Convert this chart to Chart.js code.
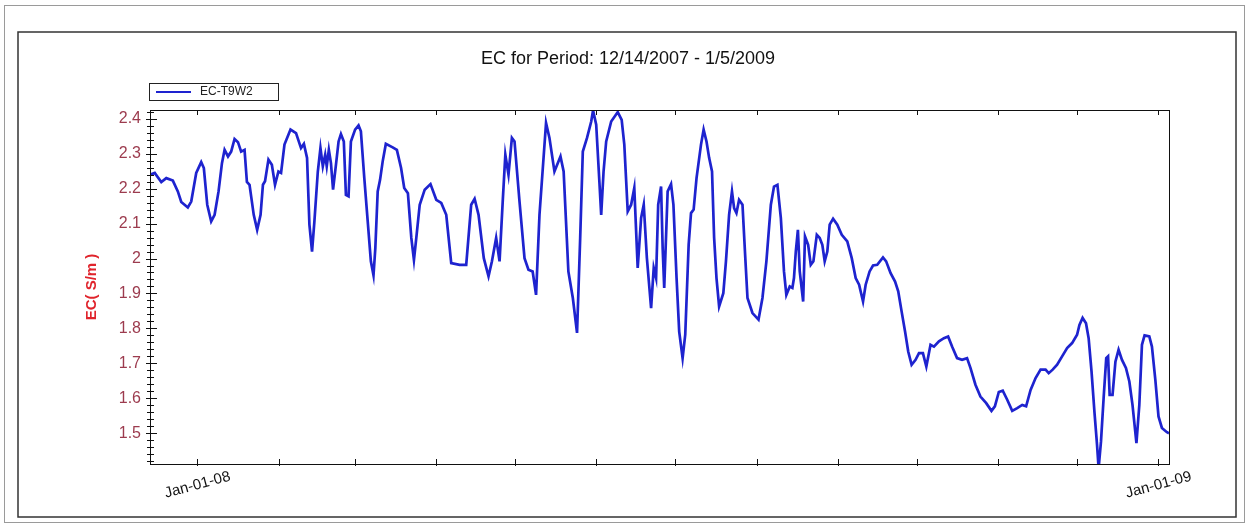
<!DOCTYPE html>
<html>
<head>
<meta charset="utf-8">
<title>EC for Period</title>
<script src="https://cdn.jsdelivr.net/npm/chart.js@4.4.1/dist/chart.umd.min.js"></script>
<style>
  html, body { margin: 0; padding: 0; background: #fff; }
  #ec-chart { display: block; }
</style>
</head>
<body>
<canvas id="ec-chart" width="1249" height="527"></canvas>
<script>
Chart.defaults.font.family = "'Liberation Sans', Arial, sans-serif";

const chartTitle = 'EC for Period: 12/14/2007 - 1/5/2009';
const seriesName = 'EC-T9W2';

// days since 12/14/2007
const daysSinceStart = [
  0, 1.8, 4.3, 6.2, 8.7, 10.6, 11.9, 14.4, 15.7, 17.6,
  19.5, 20.5, 21.8, 23.3, 24.6, 26.1, 27.4, 28.4, 29.7, 30.9,
  32.2, 33.5, 34.7, 36.0, 36.9, 37.9, 39.5, 40.8, 42.1, 43.0,
  43.8, 45.1, 46.4, 47.6, 48.9, 49.9, 51.2, 53.5, 55.6, 57.5,
  58.6, 59.8, 60.7, 61.7, 62.6, 63.9, 64.9, 65.8, 66.7, 67.3,
  68.1, 68.9, 69.7, 70.8, 71.8, 72.7, 73.8, 74.6, 75.6, 76.5,
  78.1, 79.4, 80.3, 81.6, 82.9, 84.1, 85.1, 85.8, 86.7, 87.6,
  88.6, 89.8, 92.4, 94.0, 95.6, 96.8, 98.2, 99.5, 100.5, 101.4,
  102.7, 104.6, 106.8, 109.0, 110.9, 112.8, 114.7, 117.9, 120.4, 122.3,
  123.6, 125.1, 127.1, 128.9, 130.2, 131.8, 133.1, 134.3, 135.3, 136.5,
  137.8, 138.8, 140.7, 142.6, 144.1, 145.7, 147.0, 148.3, 150.8, 152.1,
  154.0, 156.3, 157.5, 158.7, 159.3, 161.0, 162.6, 163.8, 164.8, 166.4,
  168.0, 168.7, 169.9, 171.1, 171.8, 172.7, 173.7, 175.6, 178.1, 179.6,
  180.6, 181.9, 183.2, 184.4, 185.7, 187.0, 188.0, 189.2, 190.8, 191.8,
  192.7, 193.5, 194.6, 195.2, 195.8, 197.1, 198.4, 199.3, 200.5, 201.5,
  202.8, 203.8, 205.1, 206.0, 207.0, 208.1, 209.8, 210.8, 211.9, 212.9,
  214.0, 214.8, 215.7, 216.7, 218.3, 219.3, 220.5, 221.6, 222.4, 223.3,
  224.3, 225.6, 226.6, 227.5, 229.4, 231.7, 233.2, 234.7, 236.4, 237.6,
  238.9, 240.2, 241.4, 242.3, 243.6, 244.6, 245.2, 245.9, 246.7, 247.4,
  248.7, 249.4, 250.6, 251.6, 252.6, 253.9, 255.0, 256.0, 256.9, 257.9,
  258.8, 260.1, 261.7, 263.4, 265.5, 267.2, 268.7, 270.0, 271.5, 272.5,
  274.0, 275.3, 276.9, 279.1, 280.3, 282.0, 283.7, 284.9, 286.2, 287.5,
  288.7, 290.0, 291.5, 292.8, 294.3, 295.6, 297.2, 298.5, 300.4, 302.3,
  303.9, 305.4, 307.3, 309.2, 311.1, 312.4, 314.3, 316.2, 318.4, 320.4,
  321.7, 323.2, 324.7, 326.4, 328.3, 330.2, 332.1, 333.6, 335.3, 337.2,
  339.1, 341.0, 342.2, 343.7, 345.4, 347.3, 349.2, 351.1, 353.0, 353.9,
  355.1, 356.4, 357.4, 358.5, 359.6, 360.6, 361.2, 362.1, 363.1, 364.1,
  364.8, 365.4, 366.5, 367.6, 368.8, 370.1, 371.6, 372.9, 374.1, 375.6,
  376.7, 377.7, 378.7, 380.5, 381.5, 382.8, 384.0, 385.3, 387.2, 388
];

// EC in S/m
const ecValues = [
  2.240, 2.245, 2.219, 2.230, 2.223, 2.192, 2.162, 2.146, 2.163, 2.245,
  2.276, 2.259, 2.154, 2.106, 2.125, 2.192, 2.273, 2.311, 2.292, 2.306,
  2.342, 2.333, 2.306, 2.311, 2.219, 2.211, 2.125, 2.082, 2.125, 2.211,
  2.221, 2.283, 2.268, 2.211, 2.249, 2.245, 2.326, 2.369, 2.359, 2.316,
  2.328, 2.288, 2.097, 2.020, 2.106, 2.249, 2.316, 2.264, 2.297, 2.264,
  2.311, 2.273, 2.197, 2.268, 2.335, 2.356, 2.335, 2.182, 2.178, 2.335,
  2.369, 2.381, 2.364, 2.230, 2.106, 1.992, 1.952, 2.030, 2.192, 2.225,
  2.278, 2.328, 2.318, 2.311, 2.259, 2.202, 2.187, 2.059, 1.996, 2.059,
  2.154, 2.197, 2.213, 2.168, 2.159, 2.125, 1.987, 1.982, 1.982, 2.154,
  2.171, 2.125, 2.001, 1.949, 1.992, 2.059, 1.992, 2.163, 2.297, 2.240,
  2.345, 2.335, 2.163, 2.001, 1.968, 1.963, 1.896, 2.125, 2.388, 2.345,
  2.249, 2.292, 2.249, 2.059, 1.963, 1.887, 1.787, 2.059, 2.306, 2.345,
  2.392, 2.424, 2.383, 2.221, 2.125, 2.249, 2.335, 2.392, 2.419, 2.397,
  2.326, 2.135, 2.154, 2.202, 1.973, 2.116, 2.154, 2.001, 1.858, 1.973,
  1.944, 2.154, 2.206, 2.030, 1.916, 2.192, 2.213, 2.154, 1.944, 1.791,
  1.715, 1.782, 2.039, 2.130, 2.140, 2.230, 2.326, 2.369, 2.335, 2.288,
  2.249, 2.059, 1.944, 1.863, 1.901, 1.992, 2.125, 2.192, 2.144, 2.130,
  2.168, 2.154, 2.011, 1.887, 1.844, 1.825, 1.887, 1.992, 2.154, 2.206,
  2.211, 2.116, 1.963, 1.896, 1.920, 1.916, 1.944, 2.020, 2.082, 1.963,
  1.877, 2.063, 2.039, 1.982, 1.992, 2.068, 2.059, 2.039, 1.992, 2.020,
  2.097, 2.114, 2.097, 2.068, 2.049, 2.001, 1.944, 1.925, 1.877, 1.925,
  1.963, 1.980, 1.982, 2.003, 1.992, 1.958, 1.934, 1.906, 1.848, 1.791,
  1.734, 1.696, 1.710, 1.729, 1.729, 1.691, 1.753, 1.748, 1.763, 1.772,
  1.777, 1.748, 1.715, 1.710, 1.715, 1.687, 1.639, 1.605, 1.586, 1.564,
  1.577, 1.618, 1.622, 1.596, 1.564, 1.572, 1.581, 1.577, 1.624, 1.658,
  1.682, 1.682, 1.672, 1.682, 1.696, 1.720, 1.744, 1.758, 1.782, 1.810,
  1.830, 1.815, 1.772, 1.677, 1.562, 1.467, 1.400, 1.476, 1.600, 1.715,
  1.720, 1.610, 1.610, 1.705, 1.739, 1.710, 1.687, 1.648, 1.581, 1.472,
  1.581, 1.753, 1.780, 1.777, 1.748, 1.653, 1.548, 1.515, 1.503, 1.500
];

// month ticks (days since start) and their labels
const monthStarts = [18, 49, 78, 109, 139, 170, 200, 231, 262, 292, 323, 353, 384];
const monthLabels = ['Jan-01-08', '', '', '', '', '', '', '', '', '', '', '', 'Jan-01-09'];

const lineColor = '#1e23cf';

// frame, title, legend box, inward tick marks and slanted date labels
const decorations = {
  id: 'decorations',
  beforeDraw(chart) {
    const ctx = chart.ctx;
    ctx.save();
    ctx.fillStyle = '#fff';
    ctx.fillRect(0, 0, chart.width, chart.height);
    ctx.strokeStyle = '#9a9a9a';
    ctx.lineWidth = 1;
    ctx.strokeRect(4.5, 5.5, 1240, 517);
    ctx.strokeStyle = '#333';
    ctx.lineWidth = 1.5;
    ctx.strokeRect(18, 32, 1218, 485);
    ctx.restore();
  },
  afterDraw(chart) {
    const ctx = chart.ctx;
    const a = chart.chartArea;
    const xs = chart.scales.x;
    const ys = chart.scales.y;
    ctx.save();

    ctx.strokeStyle = '#111';
    ctx.lineWidth = 1;
    ctx.strokeRect(Math.round(a.left) + 0.5, Math.round(a.top) + 0.5,
      Math.round(a.right - a.left), Math.round(a.bottom - a.top));

    const seg = (x1, y1, x2, y2) => {
      ctx.beginPath();
      ctx.moveTo(x1, y1);
      ctx.lineTo(x2, y2);
      ctx.stroke();
    };

    // x ticks + labels
    ctx.fillStyle = '#111';
    ctx.font = "15px 'Liberation Sans', Arial, sans-serif";
    ctx.textAlign = 'center';
    ctx.textBaseline = 'middle';
    xs.ticks.forEach((t, i) => {
      const px = Math.round(xs.getPixelForValue(t.value)) + 0.5;
      seg(px, a.bottom + 2, px, a.bottom - 5);
      seg(px, a.top, px, a.top + 5);
      const label = monthLabels[i];
      if (label) {
        ctx.save();
        ctx.translate(px, a.bottom + 21);
        ctx.rotate(-15 * Math.PI / 180);
        ctx.fillText(label, 0, 0);
        ctx.restore();
      }
    });

    // y ticks every 0.02, longer every 0.1
    for (let k = 71; k <= 121; k++) {
      const py = Math.round(ys.getPixelForValue(k * 0.02)) + 0.5;
      if (k % 5 === 0) {
        seg(a.left - 4, py, a.left + 7, py);
      } else {
        seg(a.left - 3, py, a.left + 4, py);
      }
    }

    // title
    ctx.fillStyle = '#111';
    ctx.font = "18px 'Liberation Sans', Arial, sans-serif";
    ctx.textAlign = 'center';
    ctx.textBaseline = 'middle';
    ctx.fillText(chartTitle, 628, 59);

    // legend box
    ctx.strokeStyle = '#222';
    ctx.lineWidth = 1;
    ctx.strokeRect(149.5, 83.5, 129, 17);
    ctx.strokeStyle = lineColor;
    ctx.lineWidth = 2;
    seg(156, 92, 191, 92);
    ctx.fillStyle = '#222';
    ctx.font = "12px 'Liberation Sans', Arial, sans-serif";
    ctx.textAlign = 'left';
    ctx.fillText(chart.data.datasets[0].label, 200, 92);

    ctx.restore();
  }
};

const points = daysSinceStart.map((d, i) => ({ x: d, y: ecValues[i] }));

new Chart(document.getElementById('ec-chart').getContext('2d'), {
  type: 'line',
  data: {
    datasets: [
      {
        label: seriesName,
        data: points,
        borderColor: lineColor,
        borderWidth: 2.7,
        pointRadius: 0,
        tension: 0,
        fill: false
      }
    ]
  },
  options: {
    responsive: false,
    animation: false,
    events: [],
    layout: { padding: { top: 110, right: 80, bottom: 0, left: 0 } },
    plugins: {
      legend: { display: false },
      title: { display: false },
      tooltip: { enabled: false }
    },
    scales: {
      x: {
        type: 'linear',
        min: 0,
        max: 388,
        afterBuildTicks: (scale) => {
          scale.ticks = monthStarts.map((v) => ({ value: v }));
        },
        afterFit: (scale) => { scale.height = 63; },
        ticks: { display: false, autoSkip: false },
        grid: { display: false, drawTicks: false },
        border: { display: false }
      },
      y: {
        min: 1.412,
        max: 2.425,
        afterFit: (scale) => { scale.width = 150; },
        ticks: {
          stepSize: 0.1,
          includeBounds: false,
          padding: 9,
          color: '#9c3b4e',
          font: { size: 16 },
          callback: (v) => {
            const r = Math.round(v * 10) / 10;
            return Math.abs(v - r) < 1e-6 ? String(r) : '';
          }
        },
        grid: { display: false, drawTicks: false },
        border: { display: false },
        title: {
          display: true,
          text: 'EC( S/m )',
          color: '#e0242c',
          font: { size: 15, weight: 'bold' },
          padding: { top: 83, bottom: 0 }
        }
      }
    }
  },
  plugins: [decorations]
});
</script>
</body>
</html>
